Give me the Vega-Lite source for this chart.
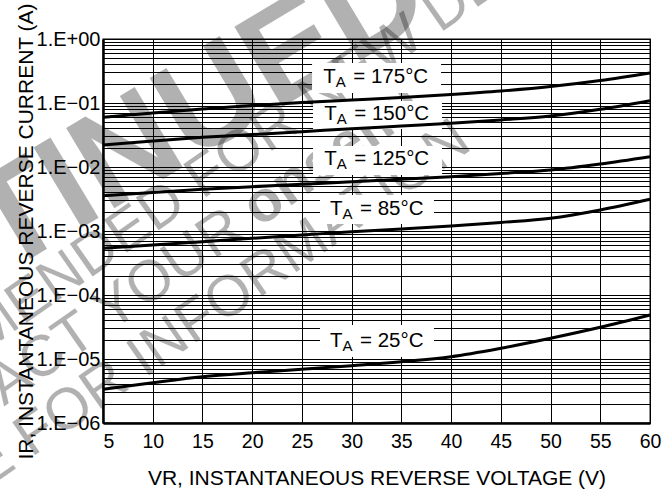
{
"$schema": "https://vega.github.io/schema/vega-lite/v6.json",
"width": 547, "height": 384,
"autosize": {"type": "none"},
"padding": {"left": 103, "top": 39, "right": 21, "bottom": 73},
"background": "white",
"config": {
  "font": "Liberation Sans",
  "view": {"stroke": "black", "strokeWidth": 1.3},
  "axis": {"grid": true, "gridColor": "black", "gridWidth": 1, "gridOpacity": 1, "ticks": false, "domainColor": "black", "domainWidth": 2.5, "labelColor": "black", "labelFont": "Liberation Sans", "titleFont": "Liberation Sans", "titleColor": "black", "titleFontWeight": "normal", "titleFontSize": 21, "labelOverlap": false}
},
"datasets": {
  "curves": [
    {"temp": "175", "v": 5, "i": 0.0598}, {"temp": "175", "v": 10, "i": 0.0698}, {"temp": "175", "v": 15, "i": 0.0806}, {"temp": "175", "v": 20, "i": 0.0914}, {"temp": "175", "v": 25, "i": 0.1018}, {"temp": "175", "v": 30, "i": 0.1114}, {"temp": "175", "v": 35, "i": 0.1219}, {"temp": "175", "v": 40, "i": 0.1358}, {"temp": "175", "v": 45, "i": 0.154}, {"temp": "175", "v": 50, "i": 0.181}, {"temp": "175", "v": 55, "i": 0.2248}, {"temp": "175", "v": 60, "i": 0.2943},
    {"temp": "150", "v": 5, "i": 0.0221}, {"temp": "150", "v": 10, "i": 0.0255}, {"temp": "150", "v": 15, "i": 0.0291}, {"temp": "150", "v": 20, "i": 0.0322}, {"temp": "150", "v": 25, "i": 0.0356}, {"temp": "150", "v": 30, "i": 0.0397}, {"temp": "150", "v": 35, "i": 0.0437}, {"temp": "150", "v": 40, "i": 0.0481}, {"temp": "150", "v": 45, "i": 0.0543}, {"temp": "150", "v": 50, "i": 0.0626}, {"temp": "150", "v": 55, "i": 0.0797}, {"temp": "150", "v": 60, "i": 0.1086},
    {"temp": "125", "v": 5, "i": 0.00356}, {"temp": "125", "v": 10, "i": 0.0040}, {"temp": "125", "v": 15, "i": 0.00449}, {"temp": "125", "v": 20, "i": 0.00492}, {"temp": "125", "v": 25, "i": 0.00537}, {"temp": "125", "v": 30, "i": 0.00589}, {"temp": "125", "v": 35, "i": 0.00643}, {"temp": "125", "v": 40, "i": 0.00705}, {"temp": "125", "v": 45, "i": 0.00791}, {"temp": "125", "v": 50, "i": 0.00898}, {"temp": "125", "v": 55, "i": 0.01114}, {"temp": "125", "v": 60, "i": 0.01449},
    {"temp": "85", "v": 5, "i": 0.000537}, {"temp": "85", "v": 10, "i": 0.000604}, {"temp": "85", "v": 15, "i": 0.000681}, {"temp": "85", "v": 20, "i": 0.000769}, {"temp": "85", "v": 25, "i": 0.000866}, {"temp": "85", "v": 30, "i": 0.000976}, {"temp": "85", "v": 35, "i": 0.001075}, {"temp": "85", "v": 40, "i": 0.001198}, {"temp": "85", "v": 45, "i": 0.001358}, {"temp": "85", "v": 50, "i": 0.001579}, {"temp": "85", "v": 55, "i": 0.00213}, {"temp": "85", "v": 60, "i": 0.00313},
    {"temp": "25", "v": 5, "i": 3.363e-6}, {"temp": "25", "v": 10, "i": 4.262e-6}, {"temp": "25", "v": 15, "i": 5.289e-6}, {"temp": "25", "v": 20, "i": 6.106e-6}, {"temp": "25", "v": 25, "i": 6.904e-6}, {"temp": "25", "v": 30, "i": 7.858e-6}, {"temp": "25", "v": 35, "i": 9.074e-6}, {"temp": "25", "v": 40, "i": 1.086e-5}, {"temp": "25", "v": 45, "i": 1.470e-5}, {"temp": "25", "v": 50, "i": 2.106e-5}, {"temp": "25", "v": 55, "i": 3.128e-5}, {"temp": "25", "v": 60, "i": 4.870e-5}
  ],
  "boxes": [
    {"temp": "175", "v": 26.02, "v2": 38.99, "i": 0.4217, "i2": 0.1433},
    {"temp": "150", "v": 26.12, "v2": 39.09, "i": 0.1075, "i2": 0.0393},
    {"temp": "125", "v": 26.12, "v2": 39.09, "i": 0.0213, "i2": 0.0075},
    {"temp": "85", "v": 26.82, "v2": 38.28, "i": 0.00365, "i2": 0.001287},
    {"temp": "25", "v": 26.82, "v2": 38.28, "i": 3.40e-5, "i2": 1.075e-5}
  ],
  "labels": [
    {"temp": "175", "v": 27.15, "i": 0.203, "rest": "= 175°C"},
    {"temp": "150", "v": 27.25, "i": 0.0542, "rest": "= 150°C"},
    {"temp": "125", "v": 27.25, "i": 0.01075, "rest": "= 125°C"},
    {"temp": "85", "v": 27.83, "i": 0.00178, "rest": "= 85°C"},
    {"temp": "25", "v": 27.83, "i": 1.54e-5, "rest": "= 25°C"}
  ]
},
"encoding": {
  "x": {"field": "v", "type": "quantitative", "scale": {"domain": [5, 60], "nice": false, "zero": false},
        "axis": {"title": "VR, INSTANTANEOUS REVERSE VOLTAGE (V)", "values": [5, 10, 15, 20, 25, 30, 35, 40, 45, 50, 55, 60], "labelFontSize": 19.5, "labelPadding": 9, "titlePadding": 17, "labelFlush": false,
                 "labelAlign": {"condition": {"test": "datum.value == 5", "value": "left"}, "value": "center"}}},
  "y": {"field": "i", "type": "quantitative", "scale": {"type": "log", "domain": [1e-6, 1], "nice": false},
        "axis": {"title": "IR, INSTANTANEOUS REVERSE CURRENT (A)",
                 "values": [1e-6, 2e-6, 3e-6, 4e-6, 5e-6, 6e-6, 7e-6, 8e-6, 9e-6, 1e-5, 2e-5, 3e-5, 4e-5, 5e-5, 6e-5, 7e-5, 8e-5, 9e-5, 1e-4, 2e-4, 3e-4, 4e-4, 5e-4, 6e-4, 7e-4, 8e-4, 9e-4, 1e-3, 2e-3, 3e-3, 4e-3, 5e-3, 6e-3, 7e-3, 8e-3, 9e-3, 1e-2, 2e-2, 3e-2, 4e-2, 5e-2, 6e-2, 7e-2, 8e-2, 9e-2, 0.1, 0.2, 0.3, 0.4, 0.5, 0.6, 0.7, 0.8, 0.9, 1],
                 "labelExpr": "abs(log(datum.value)/LN10 - round(log(datum.value)/LN10)) < 0.001 ? ('1.E' + (datum.value >= 0.999 ? '+00' : '−0' + round(-log(datum.value)/LN10))) : ''",
                 "labelFontSize": 20, "labelPadding": 3, "titlePadding": 0}}
},
"layer": [
  {"data": {"values": [{"v": -8.17, "i": 0.000583, "w": "DISCONTINUED"}]},
   "mark": {"type": "text", "fontSize": 136, "fontWeight": "bold", "angle": -31, "align": "center", "baseline": "middle", "color": "black", "opacity": 0.3},
   "encoding": {"text": {"field": "w"}}},
  {"data": {"values": [{"v": 9.52, "i": 0.001655, "w": "NOT RECOMMENDED FOR NEW DESIGN"}]},
   "mark": {"type": "text", "fontSize": 58, "angle": -35, "align": "center", "baseline": "middle", "color": "black", "opacity": 0.3},
   "encoding": {"text": {"field": "w"}}},
  {"data": {"values": [{"v": 18.57, "i": 0.001383, "w": "PLEASE CONTACT YOUR"}]},
   "mark": {"type": "text", "fontSize": 58, "angle": -35, "align": "right", "baseline": "middle", "color": "black", "opacity": 0.3},
   "encoding": {"text": {"field": "w"}}},
  {"data": {"values": [{"v": 18.57, "i": 0.001383, "w": "onsemi"}]},
   "mark": {"type": "text", "fontSize": 58, "fontWeight": "bold", "angle": -35, "align": "left", "baseline": "middle", "dx": 14, "color": "black", "opacity": 0.3},
   "encoding": {"text": {"field": "w"}}},
  {"data": {"values": [{"v": 41.3, "i": 0.0328, "w": "REPRESENTATIVE FOR INFORMATION"}]},
   "mark": {"type": "text", "fontSize": 58, "angle": -35, "align": "right", "baseline": "middle", "color": "black", "opacity": 0.3},
   "encoding": {"text": {"field": "w"}}},
  {"data": {"name": "boxes"},
   "mark": {"type": "rect", "fill": "white", "stroke": null},
   "encoding": {"x2": {"field": "v2"}, "y2": {"field": "i2"}}},
  {"data": {"name": "curves"},
   "mark": {"type": "line", "color": "black", "strokeWidth": 3, "interpolate": "monotone"},
   "encoding": {"detail": {"field": "temp", "type": "nominal"}}},
  {"data": {"name": "labels"},
   "mark": {"type": "text", "align": "left", "baseline": "alphabetic", "fontSize": 20.5, "color": "black"},
   "encoding": {"text": {"value": "T"}}},
  {"data": {"name": "labels"},
   "mark": {"type": "text", "align": "left", "baseline": "alphabetic", "fontSize": 15, "dx": 12.5, "dy": 4, "color": "black"},
   "encoding": {"text": {"value": "A"}}},
  {"data": {"name": "labels"},
   "mark": {"type": "text", "align": "left", "baseline": "alphabetic", "fontSize": 20.5, "dx": 30, "color": "black"},
   "encoding": {"text": {"field": "rest"}}}
]
}
